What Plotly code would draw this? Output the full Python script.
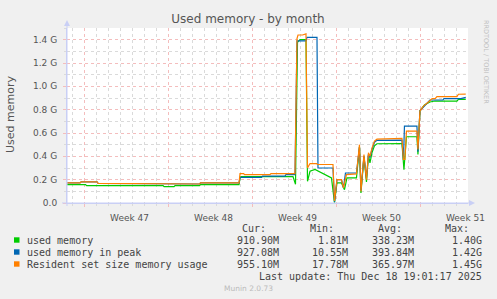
import plotly.graph_objects as go

# ---------------- data (values in G = GiB) ----------------
green_t = ["2025-11-15 12:50", "2025-11-17 02:00", "2025-11-17 04:00", "2025-11-23 13:00", "2025-11-23 15:00",
           "2025-11-24 11:00", "2025-11-24 13:00", "2025-11-26 14:00", "2025-11-26 16:00", "2025-11-29 21:00",
           "2025-11-29 23:00", "2025-11-30 01:00", "2025-12-04 09:00", "2025-12-04 14:00", "2025-12-04 18:00",
           "2025-12-04 23:00", "2025-12-05 11:00", "2025-12-05 14:00", "2025-12-05 19:00", "2025-12-06 05:00",
           "2025-12-07 14:00", "2025-12-07 20:00", "2025-12-08 01:00", "2025-12-08 10:00", "2025-12-08 16:00",
           "2025-12-08 21:00", "2025-12-09 16:00", "2025-12-09 22:00", "2025-12-10 01:00", "2025-12-10 07:00",
           "2025-12-10 12:00", "2025-12-10 16:00", "2025-12-10 19:00", "2025-12-10 23:00", "2025-12-11 04:00",
           "2025-12-11 09:00", "2025-12-13 11:00", "2025-12-13 15:00", "2025-12-13 20:00", "2025-12-14 17:00",
           "2025-12-14 19:00", "2025-12-14 23:00", "2025-12-15 08:00", "2025-12-15 19:00", "2025-12-16 05:00",
           "2025-12-18 01:00", "2025-12-18 04:00", "2025-12-18 18:40"]
green_v = [0.157, 0.157, 0.149, 0.149, 0.140,
           0.140, 0.149, 0.149, 0.157, 0.157,
           0.218, 0.226, 0.226, 0.160, 1.377,
           1.400, 1.400, 0.186, 0.272, 0.288,
           0.215, 0.002, 0.172, 0.172, 0.114,
           0.215, 0.215, 0.480, 0.086, 0.400,
           0.180, 0.410, 0.343, 0.430, 0.490,
           0.508, 0.510, 0.285, 0.568, 0.568,
           0.416, 0.790, 0.840, 0.866, 0.874,
           0.874, 0.889, 0.889]

blue_t = ["2025-11-15 12:50", "2025-11-16 15:00", "2025-11-16 17:00", "2025-11-18 01:00", "2025-11-18 03:00",
          "2025-11-18 13:00", "2025-11-18 15:00", "2025-11-26 14:00", "2025-11-26 16:00", "2025-11-29 21:00",
          "2025-11-29 23:00", "2025-12-01 18:00", "2025-12-01 20:00", "2025-12-03 17:00", "2025-12-03 19:00",
          "2025-12-04 13:00", "2025-12-04 17:00", "2025-12-05 11:00", "2025-12-05 13:00", "2025-12-06 09:00",
          "2025-12-06 11:00", "2025-12-07 17:00", "2025-12-07 20:00", "2025-12-08 01:00", "2025-12-08 10:00",
          "2025-12-08 14:00", "2025-12-08 18:00", "2025-12-09 16:00", "2025-12-09 22:00", "2025-12-10 01:00",
          "2025-12-10 07:00", "2025-12-10 12:00", "2025-12-10 16:00", "2025-12-10 19:00", "2025-12-10 23:00",
          "2025-12-11 04:00", "2025-12-11 09:00", "2025-12-13 11:00", "2025-12-13 14:00", "2025-12-13 16:00",
          "2025-12-14 17:00", "2025-12-14 19:00", "2025-12-14 23:00", "2025-12-15 13:00", "2025-12-15 19:00",
          "2025-12-16 21:00", "2025-12-16 23:00", "2025-12-18 09:00", "2025-12-18 18:40"]
blue_v = [0.172, 0.172, 0.181, 0.181, 0.169,
          0.169, 0.163, 0.163, 0.172, 0.172,
          0.219, 0.219, 0.231, 0.231, 0.244,
          0.244, 1.390, 1.390, 1.420, 1.420,
          0.300, 0.300, 0.010, 0.200, 0.200,
          0.130, 0.257, 0.257, 0.480, 0.110,
          0.400, 0.210, 0.420, 0.390, 0.460,
          0.520, 0.537, 0.539, 0.370, 0.659,
          0.659, 0.440, 0.790, 0.860, 0.883,
          0.883, 0.895, 0.895, 0.906]

orange_t = ["2025-11-15 12:50", "2025-11-16 15:00", "2025-11-16 17:00", "2025-11-18 01:00", "2025-11-18 03:00",
            "2025-11-18 13:00", "2025-11-18 15:00", "2025-11-26 14:00", "2025-11-26 16:00", "2025-11-29 21:00",
            "2025-11-29 23:00", "2025-11-30 06:00", "2025-11-30 08:00", "2025-12-02 11:00", "2025-12-02 13:00",
            "2025-12-04 13:00", "2025-12-04 17:00", "2025-12-04 19:00", "2025-12-05 04:00", "2025-12-05 09:00",
            "2025-12-05 11:00", "2025-12-05 14:00", "2025-12-05 19:00", "2025-12-06 08:00", "2025-12-06 10:00",
            "2025-12-07 17:00", "2025-12-07 20:00", "2025-12-08 01:00", "2025-12-08 10:00", "2025-12-08 14:00",
            "2025-12-08 20:00", "2025-12-09 16:00", "2025-12-09 22:00", "2025-12-10 01:00", "2025-12-10 07:00",
            "2025-12-10 12:00", "2025-12-10 16:00", "2025-12-10 19:00", "2025-12-10 23:00", "2025-12-11 04:00",
            "2025-12-11 09:00", "2025-12-13 11:00", "2025-12-13 14:00", "2025-12-13 17:00", "2025-12-13 20:00",
            "2025-12-14 17:00", "2025-12-14 19:00", "2025-12-14 23:00", "2025-12-15 06:00", "2025-12-15 16:00",
            "2025-12-15 23:30", "2025-12-16 05:30", "2025-12-16 09:00", "2025-12-18 01:00", "2025-12-18 04:00",
            "2025-12-18 18:40"]
orange_v = [0.172, 0.172, 0.181, 0.181, 0.169,
            0.169, 0.163, 0.163, 0.172, 0.172,
            0.252, 0.252, 0.244, 0.244, 0.252,
            0.252, 1.410, 1.440, 1.440, 1.450,
            1.450, 0.300, 0.338, 0.338, 0.330,
            0.330, 0.017, 0.200, 0.200, 0.130,
            0.243, 0.250, 0.500, 0.100, 0.415,
            0.200, 0.430, 0.400, 0.470, 0.530,
            0.548, 0.553, 0.373, 0.373, 0.616,
            0.616, 0.459, 0.788, 0.831, 0.866,
            0.895, 0.895, 0.912, 0.912, 0.932,
            0.933]

series_names = ["used memory", "used memory in peak", "Resident set size memory usage"]
series_colors = ["#00CC00", "#0066B3", "#FF8000"]
cur_txt = ["910.90M", "927.08M", "955.10M"]
min_txt = ["1.81M", "10.55M", "17.78M"]
avg_txt = ["338.23M", "393.84M", "365.97M"]
max_txt = ["1.40G", "1.42G", "1.45G"]

y_tickvals = [0.0, 0.2, 0.4, 0.6, 0.8, 1.0, 1.2, 1.4]
y_ticktext = ["0.0", "0.2 G", "0.4 G", "0.6 G", "0.8 G", "1.0 G", "1.2 G", "1.4 G"]

title_text = "Used memory - by month"
y_title = "Used memory"
last_update = "Last update: Thu Dec 18 19:01:17 2025"
munin_ver = "Munin 2.0.73"
side_text = "RRDTOOL / TOBI OETIKER"

# ---------------- layout geometry (pixels) ----------------
W, H = 497, 299
L, R, T, B = 67, 468, 28, 203


def px(x):
    return (x - L) / (R - L)


def py(y):
    return (B - y) / (B - T)


AXIS = "#C9CFF5"
MGRID = "#F4BDBD"
GRID = "#DADADA"
FONT = "#555555"

fig = go.Figure()
for t, v, name, col in [(green_t, green_v, series_names[0], series_colors[0]),
                        (blue_t, blue_v, series_names[1], series_colors[1]),
                        (orange_t, orange_v, series_names[2], series_colors[2])]:
    fig.add_trace(go.Scatter(x=t, y=v, mode="lines", name=name,
                             line=dict(color=col, width=1.2), showlegend=False,
                             hoverinfo="skip"))

fig.update_layout(
    width=W, height=H,
    margin=dict(l=L, r=W - R, t=T, b=H - B, pad=0),
    paper_bgcolor="#F0F0F0", plot_bgcolor="#FFFFFF",
    font=dict(family="DejaVu Sans", color=FONT, size=9),
    title=dict(text=title_text, x=248 / W, xanchor="center", y=1 - 19 / H, yanchor="middle",
               font=dict(family="DejaVu Sans", size=12, color=FONT)),
    xaxis=dict(
        type="date", range=["2025-11-15 12:48", "2025-12-18 23:10"],
        tick0="2025-11-17", dtick=7 * 86400000, tickformat="Week %V",
        ticklabelmode="period", ticklabelshift=3,
        showgrid=True, gridcolor=MGRID, griddash="dot", gridwidth=1,
        ticks="outside", ticklen=3, tickcolor=MGRID, tickwidth=1,
        ticklabelstandoff=3,
        minor=dict(tick0="2025-11-17", dtick=86400000, showgrid=True, gridcolor=GRID,
                   griddash="dot", gridwidth=1, ticks="outside", ticklen=2, tickcolor=GRID),
        showline=True, linecolor=AXIS, linewidth=1,
        tickfont=dict(size=9, color=FONT), zeroline=False, fixedrange=True,
    ),
    yaxis=dict(
        range=[0, 1.5], tickmode="array", tickvals=y_tickvals, ticktext=y_ticktext,
        showgrid=True, gridcolor=MGRID, griddash="dot", gridwidth=1,
        ticks="outside", ticklen=3, tickcolor=MGRID, tickwidth=1,
        ticklabelstandoff=4,
        minor=dict(tick0=0, dtick=0.1, showgrid=True, gridcolor=GRID, griddash="dot",
                   gridwidth=1, ticks="outside", ticklen=2, tickcolor=GRID),
        showline=True, linecolor=AXIS, linewidth=1,
        tickfont=dict(size=9, color=FONT), zeroline=False, fixedrange=True,
    ),
)

shapes = []
# axis extensions + arrow heads
shapes.append(dict(type="line", xref="paper", yref="paper", x0=px(62), x1=px(470), y0=py(B), y1=py(B),
                   line=dict(color=AXIS, width=1)))
shapes.append(dict(type="line", xref="paper", yref="paper", x0=px(L), x1=px(L), y0=py(B + 3), y1=py(24),
                   line=dict(color=AXIS, width=1)))
shapes.append(dict(type="path", xref="paper", yref="paper",
                   path=f"M {px(469)},{py(B - 3)} L {px(475)},{py(B)} L {px(469)},{py(B + 3)} Z",
                   fillcolor=AXIS, line=dict(color=AXIS, width=0)))
shapes.append(dict(type="path", xref="paper", yref="paper",
                   path=f"M {px(L - 3)},{py(26)} L {px(L)},{py(20)} L {px(L + 3)},{py(26)} Z",
                   fillcolor=AXIS, line=dict(color=AXIS, width=0)))

annotations = []
mono = dict(family="DejaVu Sans Mono", size=10, color="#444444")
# y axis title
annotations.append(dict(text=y_title, x=px(10), y=py(115), xref="paper", yref="paper", showarrow=False,
                        textangle=-90, xanchor="center", yanchor="middle",
                        font=dict(family="DejaVu Sans", size=11, color=FONT)))
# side text
annotations.append(dict(text=side_text, x=px(486), y=py(62), xref="paper", yref="paper", showarrow=False,
                        textangle=90, xanchor="center", yanchor="middle",
                        font=dict(family="DejaVu Sans", size=6.5, color="#C0C0C0")))
# legend headers
for txt, xr in [("Cur:", 268), ("Min:", 336), ("Avg:", 403.5), ("Max:", 471)]:
    annotations.append(dict(text=txt, x=px(xr), y=py(228.5), xref="paper", yref="paper", showarrow=False,
                            xanchor="right", yanchor="middle", font=mono))
row_y = [240, 252, 264]
for i in range(3):
    annotations.append(dict(text=series_names[i], x=px(24.5), y=py(row_y[i]), xref="paper", yref="paper",
                            showarrow=False, xanchor="left", yanchor="middle", font=mono))
    for txt, xr in [(cur_txt[i], 280.5), (min_txt[i], 349.5), (avg_txt[i], 416), (max_txt[i], 484)]:
        annotations.append(dict(text=txt, x=px(xr), y=py(row_y[i]), xref="paper", yref="paper",
                                showarrow=False, xanchor="right", yanchor="middle", font=mono))
    shapes.append(dict(type="rect", xref="paper", yref="paper", x0=px(14), x1=px(19.5),
                       y0=py(row_y[i] - 2.7), y1=py(row_y[i] + 2.7),
                       fillcolor=series_colors[i], line=dict(width=0)))
annotations.append(dict(text=last_update, x=px(484), y=py(276), xref="paper", yref="paper", showarrow=False,
                        xanchor="right", yanchor="middle", font=mono))
annotations.append(dict(text=munin_ver, x=px(248), y=py(288), xref="paper", yref="paper", showarrow=False,
                        xanchor="center", yanchor="middle",
                        font=dict(family="DejaVu Sans", size=7.5, color="#BBBBBB")))

fig.update_layout(shapes=shapes, annotations=annotations)
fig.write_html("out.html")
